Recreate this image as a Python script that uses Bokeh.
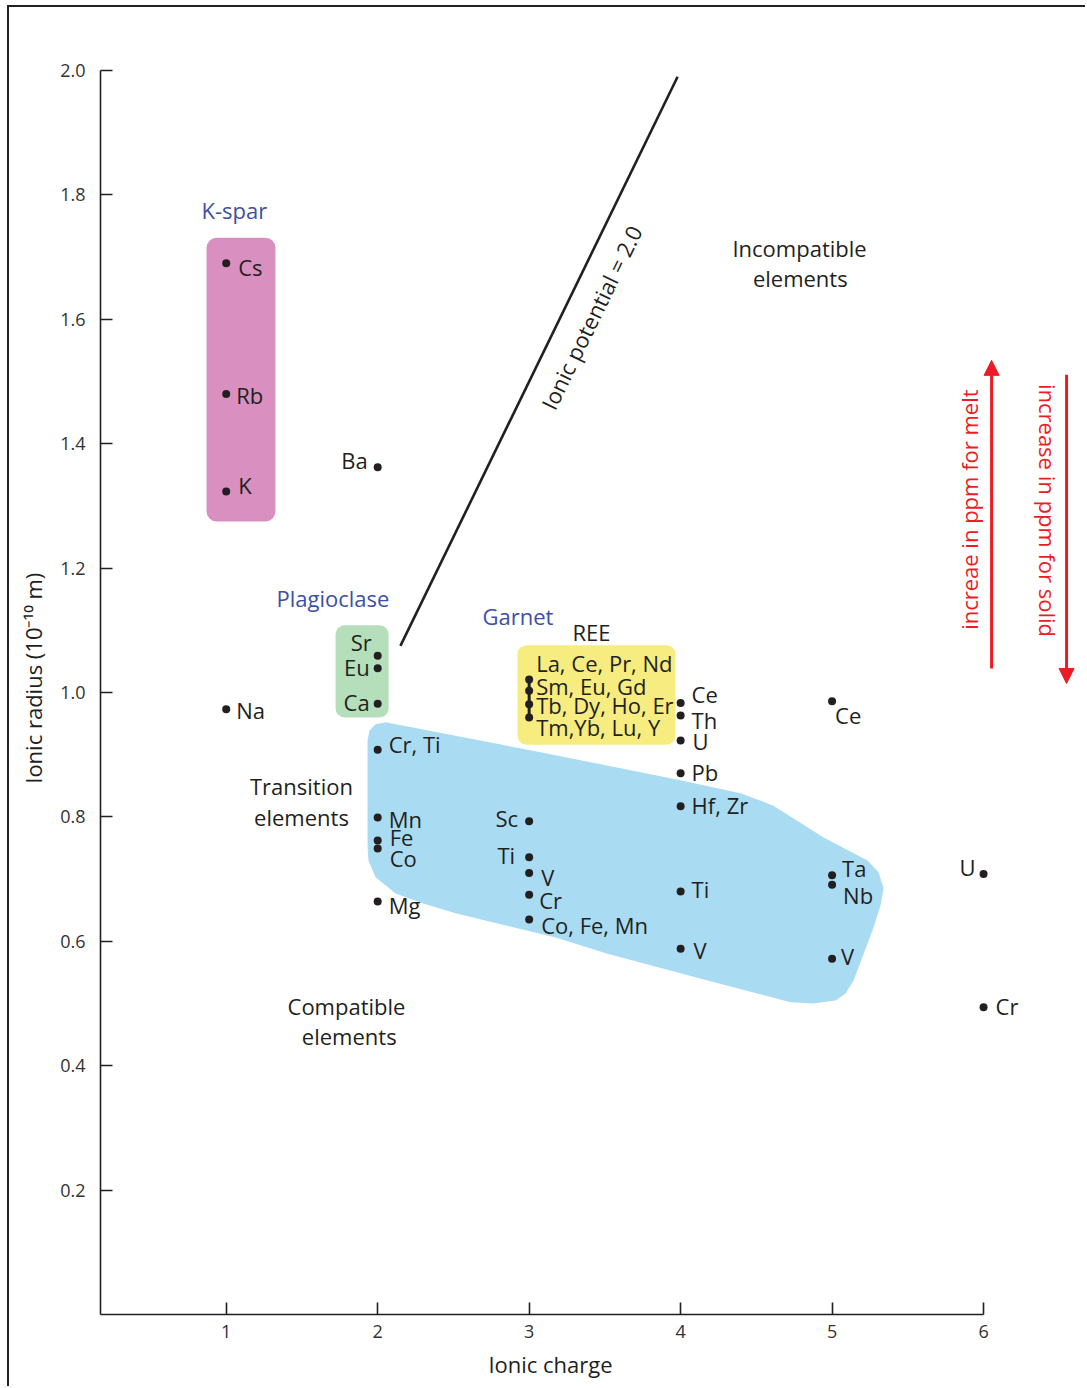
import math
from bokeh.plotting import figure
from bokeh.models import (Range1d, FixedTicker, PrintfTickFormatter, ColumnDataSource,
                          Arrow, NormalHead)
from bokeh.core.properties import value
from bokeh.embed import file_html
from bokeh.resources import INLINE

FONT = "Open Sans"
INK = "#231f20"
GROUP_BLUE = "#3d4fa6"
RED = "#ed1c24"
NBSP = "\u00a0"

# ---- element data: ionic charge vs ionic radius (1e-10 m) ----
elements = ["Cs", "Rb", "K", "Na", "Ba", "Sr", "Eu", "Ca",
            "Cr, Ti", "Mn", "Fe", "Co", "Mg",
            "Sc", "Ti", "V", "Cr", "Co, Fe, Mn",
            "Ce", "Th", "U", "Pb", "Hf, Zr", "Ti", "V",
            "Ce", "Ta", "Nb", "V", "U", "Cr"]
charge = [1, 1, 1, 1, 2, 2, 2, 2,
          2, 2, 2, 2, 2,
          3, 3, 3, 3, 3,
          4, 4, 4, 4, 4, 4, 4,
          5, 5, 5, 5, 6, 6]
radius = [1.69, 1.48, 1.323, 0.973, 1.362, 1.059, 1.039, 0.982,
          0.908, 0.799, 0.762, 0.749, 0.664,
          0.793, 0.735, 0.71, 0.675, 0.635,
          0.983, 0.963, 0.923, 0.87, 0.817, 0.68, 0.588,
          0.986, 0.706, 0.691, 0.572, 0.708, 0.494]

# rare earth elements (trivalent)
ree_labels = ["La, Ce, Pr, Nd", "Sm, Eu, Gd", "Tb, Dy, Ho, Er", "Tm,Yb, Lu, Y"]
ree_charge = [3, 3, 3, 3]
ree_radius = [1.021, 1.003, 0.981, 0.960]

# label placement for each element: alignment and pixel offsets
label_align = ["left", "left", "left", "left", "right", "right", "right", "right",
               "left", "left", "left", "left", "left",
               "right", "right", "left", "left", "left",
               "left", "left", "left", "left", "left", "left", "left",
               "left", "left", "left", "left", "right", "left"]
label_dx = [12, 10, 12, 10, -10, -6, -8, -8,
            11, 11, 12, 12, 11,
            -11, -14, 12, 10, 12,
            11, 11, 12, 11, 11, 11, 13,
            3, 10, 11, 9, -8, 12]
label_dy = [4, 1, -7, 1, -7, -14, -1, -2,
            -6, 1, -4, 9, 4,
            -3, -2, 4, 5, 5,
            -9, 4, 1, -1, -1, -3, 1,
            14, -7, 10, -3, -7, -1]
ree_dy = [-16, -5, 1, 10]

# ionic potential (charge / radius) = 2.0 boundary
ip_charge = [2.15, 3.98]
ip_value = 2.0

# mineral groupings
kspar_box = dict(left=0.87, right=1.325, bottom=1.275, top=1.731)
plag_box = dict(left=1.722, right=2.072, bottom=0.960, top=1.108)
garnet_box = dict(left=2.923, right=3.966, bottom=0.916, top=1.076)
transition_x = [1.933, 1.946, 1.986, 2.052, 3.075, 3.999, 4.396, 4.613, 4.944, 5.234,
                5.307, 5.340, 5.320, 5.274, 5.142, 5.089, 5.023, 4.878, 4.726, 4.178,
                3.517, 3.174, 2.514, 2.296, 2.118, 1.986, 1.939, 1.933]
transition_y = [0.923, 0.939, 0.949, 0.952, 0.904, 0.859, 0.838, 0.818, 0.767, 0.730,
                0.711, 0.685, 0.658, 0.622, 0.537, 0.516, 0.505, 0.500, 0.502, 0.537,
                0.580, 0.606, 0.645, 0.661, 0.677, 0.703, 0.730, 0.754]

x_ticks = [1, 2, 3, 4, 5, 6]
y_ticks = [0.2, 0.4, 0.6, 0.8, 1.0, 1.2, 1.4, 1.6, 1.8, 2.0]

# canvas sits inside a thin page frame (margin + border)
W, H = 1078, 1381
BL, BR, BT, BB = 91, 7, 63, 74
X0, X1 = 0.17, 6.64
Y0, Y1 = 0.0, 2.0

p = figure(width=W, height=H, output_backend="svg", toolbar_location=None,
           x_range=Range1d(X0, X1), y_range=Range1d(Y0, Y1),
           min_border_left=BL, min_border_right=BR, min_border_top=BT, min_border_bottom=BB)
p.margin = (5, 0, 0, 7)
p.styles = {"border-left": "2px solid #222222", "border-top": "2px solid #222222"}
p.background_fill_color = "white"
p.border_fill_color = "white"
p.outline_line_color = None
p.xgrid.visible = False
p.ygrid.visible = False

for ax in (p.xaxis[0], p.yaxis[0]):
    ax.axis_line_color = INK
    ax.axis_line_width = 1.6
    ax.major_tick_line_color = INK
    ax.major_tick_line_width = 1.6
    ax.major_tick_in = 12
    ax.major_tick_out = 0
    ax.minor_tick_line_color = None
    ax.major_label_text_font = FONT
    ax.major_label_text_font_size = "18px"
    ax.major_label_text_color = "#333333"
    ax.axis_label_text_font = FONT
    ax.axis_label_text_font_size = "22px"
    ax.axis_label_text_font_style = "normal"
    ax.axis_label_text_color = INK

p.xaxis.ticker = FixedTicker(ticks=x_ticks)
p.xaxis.bounds = (X0, 6)
p.xaxis.major_label_standoff = 10
# trailing padding keeps the title centred under the drawn axis line
p.xaxis.axis_label = "Ionic charge" + NBSP * 14
p.xaxis.axis_label_standoff = 8

p.yaxis.ticker = FixedTicker(ticks=y_ticks)
p.yaxis.formatter = PrintfTickFormatter(format="%.1f")
p.yaxis.bounds = (Y0, Y1)
p.yaxis.major_label_standoff = 15
p.yaxis.axis_label = NBSP * 5 + "Ionic radius (10\u207b\u00b9\u2070 m)"
p.yaxis.axis_label_standoff = 9

# mineral fields
p.quad(**kspar_box, fill_color="#d98fc0", line_color=None, border_radius=10)
p.quad(**plag_box, fill_color="#b5dfbb", line_color=None, border_radius=9)
p.quad(**garnet_box, fill_color="#f6ec80", line_color=None, border_radius=9)
p.patch(transition_x, transition_y, fill_color="#a9dcf3", line_color=None)

# ionic potential line: radius = charge / 2
p.line(ip_charge, [c / ip_value for c in ip_charge], line_color=INK, line_width=2.6)

# screen angle of the boundary line
fw, fh = W - BL - BR, H - BT - BB
sx, sy = fw / (X1 - X0), fh / (Y1 - Y0)
ang = math.atan2(sy / ip_value, sx)
p.text(x=[3.41], y=[1.603], text=["Ionic potential = 2.0"], angle=ang,
       text_font=value(FONT), text_font_size="22px", text_color=INK,
       text_align="center", text_baseline="middle")

# element points
p.line(ree_charge, ree_radius, line_color=INK, line_width=3)
p.scatter(ree_charge, ree_radius, size=8, fill_color=INK, line_color=None)
p.scatter(charge, radius, size=8, fill_color=INK, line_color=None)

for side in ("left", "right"):
    idx = [i for i, a in enumerate(label_align) if a == side]
    src = ColumnDataSource(dict(
        x=[charge[i] for i in idx], y=[radius[i] for i in idx],
        t=[elements[i] for i in idx],
        dx=[label_dx[i] for i in idx], dy=[label_dy[i] for i in idx]))
    p.text(x="x", y="y", text="t", x_offset="dx", y_offset="dy", source=src,
           text_font=value(FONT), text_font_size="22px", text_color=INK,
           text_align=side, text_baseline="middle")

p.text(x=ree_charge, y=ree_radius, text=ree_labels, x_offset=7, y_offset=ree_dy,
       text_font=value(FONT), text_font_size="22px", text_color=INK,
       text_align="left", text_baseline="middle")

# group titles
p.text(x=[0.837, 1.332, 2.692], y=[1.775, 1.1527, 1.1222],
       text=["K-spar", "Plagioclase", "Garnet"],
       text_font=value(FONT), text_font_size="22px", text_color=GROUP_BLUE,
       text_align="left", text_baseline="middle")
p.text(x=[3.286], y=[1.0965], text=["REE"],
       text_font=value(FONT), text_font_size="22px", text_color=INK,
       text_align="left", text_baseline="middle")
p.text(x=[4.785, 4.79, 1.497, 1.497, 1.794, 1.812],
       y=[1.7154, 1.6672, 0.8489, 0.8006, 0.4952, 0.447],
       text=["Incompatible", "elements", "Transition", "elements", "Compatible", "elements"],
       text_font=value(FONT), text_font_size="22px", text_color=INK,
       text_align="center", text_baseline="middle")

# melt / solid enrichment arrows
p.add_layout(Arrow(end=NormalHead(size=15, fill_color=RED, line_color=RED),
                   x_start=6.053, y_start=1.0386, x_end=6.053, y_end=1.534,
                   line_color=RED, line_width=3))
p.add_layout(Arrow(end=NormalHead(size=15, fill_color=RED, line_color=RED),
                   x_start=6.548, y_start=1.511, x_end=6.548, y_end=1.0145,
                   line_color=RED, line_width=3))
p.text(x=[5.901], y=[1.294], text=["increae in ppm for melt"], angle=math.pi / 2,
       text_font=value(FONT), text_font_size="22px", text_color=RED,
       text_align="center", text_baseline="middle")
p.text(x=[6.423], y=[1.2926], text=["increase in ppm for solid"], angle=-math.pi / 2,
       text_font=value(FONT), text_font_size="22px", text_color=RED,
       text_align="center", text_baseline="middle")

open("out.html", "w").write(file_html(p, INLINE))
